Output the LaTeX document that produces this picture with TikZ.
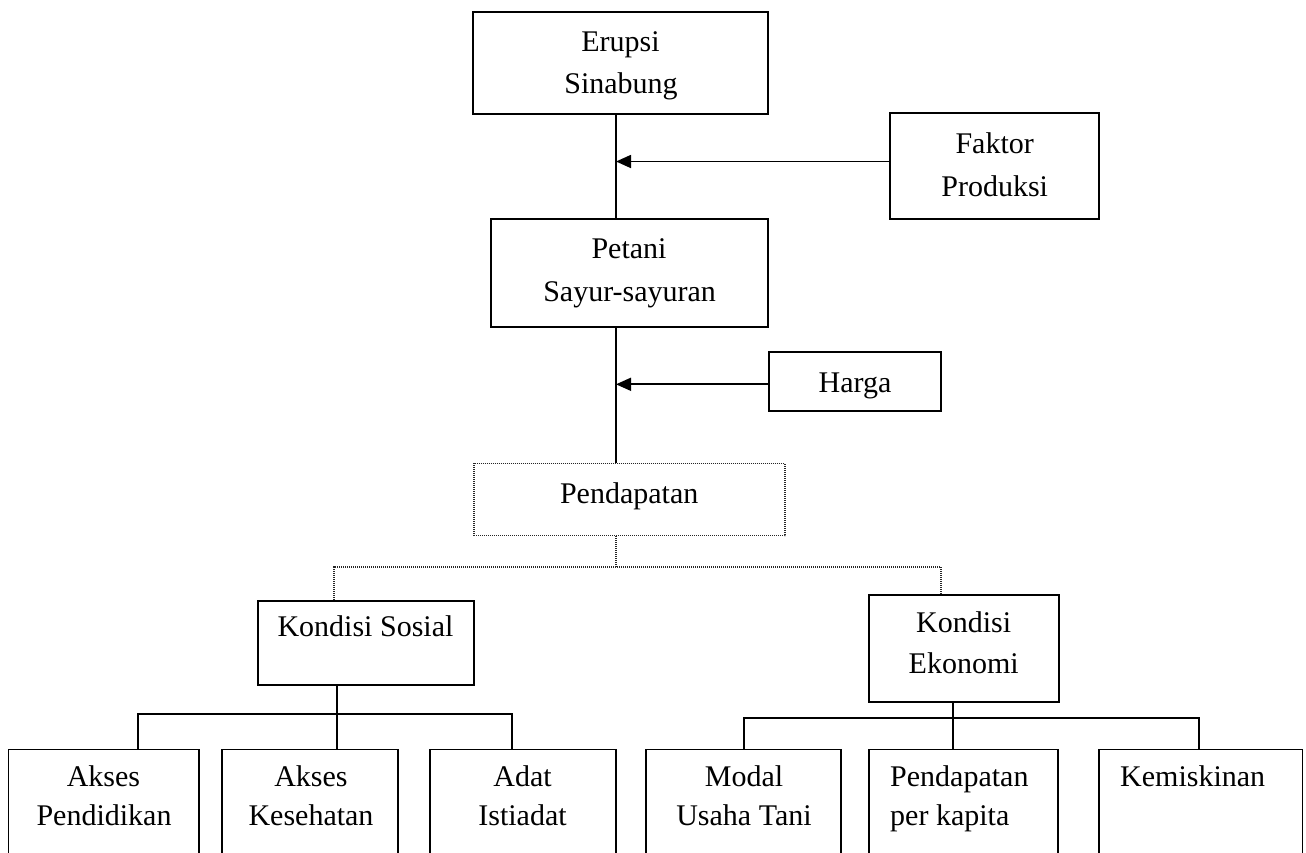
\documentclass[tikz,border=0pt]{standalone}
\usepackage{fontspec}
\setmainfont{Liberation Serif}
\usetikzlibrary{arrows.meta}
\begin{document}
\begin{tikzpicture}[x=1pt,y=-1pt,
  box/.style={draw, line width=1.7pt, rectangle, inner sep=0pt},
  dotbox/.style={draw=black!85, line width=1.1pt, dash pattern=on 1pt off 1pt, rectangle, inner sep=0pt},
  txt/.style={inner sep=0pt, anchor=base, font=\fontsize{30}{36}\selectfont},
  ltxt/.style={inner sep=0pt, anchor=base west, font=\fontsize{30}{36}\selectfont},
  conn/.style={line width=1.7pt},
  dconn/.style={draw=black!85, line width=1.1pt, dash pattern=on 1pt off 1pt},
  arr/.style={line width=1.7pt, -{Triangle[length=15pt,width=13pt]}}]
\useasboundingbox (0,0) rectangle (1306,852);
\clip (0,0) rectangle (1306,852);
% boxes
\node[box, minimum width=294.7pt, minimum height=101.4pt] (erupsi) at (620.65,63) {};
\node[box, minimum width=209.3pt, minimum height=105.7pt] (faktor) at (994.65,166.15) {};
\node[box, minimum width=277pt, minimum height=107.4pt] (petani) at (629.2,273) {};
\node[box, minimum width=171.7pt, minimum height=58.4pt] (harga) at (855.15,381.5) {};
\node[dotbox, minimum width=311pt, minimum height=72.4pt] (pend) at (629.5,499.5) {};
\node[box, minimum width=216.6pt, minimum height=84.3pt] (sos) at (366,642.85) {};
\node[box, minimum width=190pt, minimum height=107.3pt] (eko) at (964,648.65) {};
\node[box, minimum width=190.3pt, minimum height=150.5pt] (b1) at (103.55,824.75) {};
\node[box, minimum width=175.5pt, minimum height=150.5pt] (b2) at (309.95,824.75) {};
\node[box, minimum width=185.6pt, minimum height=150.5pt] (b3) at (522.9,824.75) {};
\node[box, minimum width=195.2pt, minimum height=150.5pt] (b4) at (743.6,824.75) {};
\node[box, minimum width=188.8pt, minimum height=150.5pt] (b5) at (963.6,824.75) {};
\node[box, minimum width=203.4pt, minimum height=150.5pt] (b6) at (1200.7,824.75) {};
% texts
\node[txt] (t1a) at (620.5,51.7) {Erupsi};
\node[txt] (t1b) at (621,93.3) {Sinabung};
\node[txt] (t2a) at (994.7,153.3) {Faktor};
\node[txt] (t2b) at (994.7,196) {Produksi};
\node[txt] (t3a) at (629,258.3) {Petani};
\node[txt] (t3b) at (629.6,301.7) {Sayur-sayuran};
\node[txt] (t4) at (855,392.3) {Harga};
\node[txt] (t5) at (629.2,503.3) {Pendapatan};
\node[txt] (t6) at (365.5,636.7) {Kondisi Sosial};
\node[txt] (t7a) at (963.7,632.7) {Kondisi};
\node[txt] (t7b) at (963.7,673.3) {Ekonomi};
\node[txt] (t8a) at (103.5,786) {Akses};
\node[txt] (t8b) at (104,825.7) {Pendidikan};
\node[txt] (t9a) at (311,786) {Akses};
\node[txt] (t9b) at (311,825.7) {Kesehatan};
\node[txt] (t10a) at (522.5,786) {Adat};
\node[txt] (t10b) at (522.5,825.7) {Istiadat};
\node[txt] (t11a) at (744,786) {Modal};
\node[txt] (t11b) at (744,825.7) {Usaha Tani};
\node[ltxt] (t12a) at (890,786) {Pendapatan};
\node[ltxt] (t12b) at (890,825.7) {per kapita};
\node[ltxt] (t13) at (1120,786) {Kemiskinan};
% junction coordinates
\coordinate (trunk) at (616,0);
\coordinate (a1) at (616,161.5);
\coordinate (a2) at (616,384.3);
\coordinate (dj) at (616,567);
\coordinate (dl) at (334,567);
\coordinate (dr) at (941,567);
\coordinate (sj) at (337,714);
\coordinate (sl) at (138,714);
\coordinate (sr) at (512,714);
\coordinate (ej) at (953.3,718);
\coordinate (el) at (744,718);
\coordinate (er) at (1199,718);
% main trunk
\draw[conn] (erupsi.south -| trunk) -- (petani.north -| trunk);
\draw[conn] (petani.south -| trunk) -- (pend.north -| trunk);
\draw[arr] (faktor.west |- a1) -- (a1);
\draw[arr] (harga.west |- a2) -- (a2);
% dotted branch
\draw[dconn] (pend.south -| dj) -- (dj);
\draw[dconn] (dl |- sos.north) -- (dl) -- (dr) -- (dr |- eko.north);
% social tree
\draw[conn] (sos.south -| sj) -- (sj |- b2.north);
\draw[conn] (sl |- b1.north) -- (sl) -- (sr) -- (sr |- b3.north);
% economy tree
\draw[conn] (eko.south -| ej) -- (ej |- b5.north);
\draw[conn] (el |- b4.north) -- (el) -- (er) -- (er |- b6.north);
\end{tikzpicture}
\end{document}
